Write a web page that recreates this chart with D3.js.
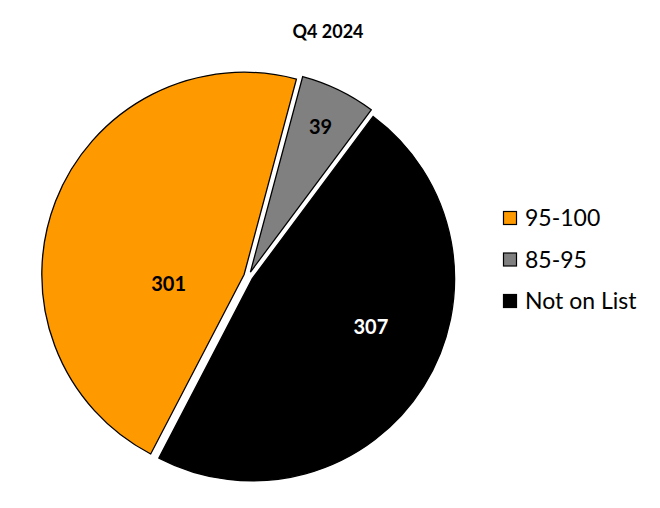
<!DOCTYPE html>
<html>
<head>
<meta charset="utf-8">
<script src="https://cdn.jsdelivr.net/npm/d3@7"></script>
<style>
  html, body { margin: 0; padding: 0; background: #ffffff; }
  svg { display: block; }
  text { font-family: Lato, "Open Sans", sans-serif; }
</style>
</head>
<body>
<svg id="chart" width="660" height="508"></svg>
<script>
// ---- data ----
const title = "Q4 2024";
const categories = ["95-100", "85-95", "Not on List"];
const values = [301, 39, 307];
const colors = ["#FF9900", "#808080", "#000000"];
const labelColors = ["#000000", "#000000", "#ffffff"];

// ---- layout ----
const W = 660, H = 508;
const cx = 248.4, cy = 276.2, R = 202.3;
const explode = 4.6;
const startDeg = 207.5;
// label placement tweaks (angle shift in degrees, distance from slice apex in px)
const labelShift = [-28, 0, -10];
const labelDist = [76, 161, 128];

const svg = d3.select("#chart");

svg.append("text")
  .attr("x", 328).attr("y", 38)
  .attr("text-anchor", "middle")
  .attr("font-size", 18).attr("font-weight", "bold")
  .attr("fill", "#000")
  .text(title);

const rad = d => d * Math.PI / 180;
const pie = d3.pie().sort(null).value(d => d)
  .startAngle(rad(startDeg)).endAngle(rad(startDeg) + 2 * Math.PI);
const arcs = pie(values);
const arc = d3.arc().innerRadius(0).outerRadius(R);

const g = svg.append("g").attr("transform", `translate(${cx},${cy})`);

arcs.forEach((a, i) => {
  const mid = (a.startAngle + a.endAngle) / 2;
  const ox = explode * Math.sin(mid), oy = -explode * Math.cos(mid);
  const sg = g.append("g").attr("transform", `translate(${ox},${oy})`);
  sg.append("path")
    .attr("d", arc(a))
    .attr("fill", colors[i])
    .attr("stroke", "#000")
    .attr("stroke-width", 1.3)
    .attr("stroke-linejoin", "miter");
  const la = mid + rad(labelShift[i]);
  sg.append("text")
    .attr("x", labelDist[i] * Math.sin(la))
    .attr("y", -labelDist[i] * Math.cos(la))
    .attr("dy", "0.36em")
    .attr("text-anchor", "middle")
    .attr("font-size", 20).attr("font-weight", "bold")
    .attr("fill", labelColors[i])
    .text(values[i]);
});

// legend
const legend = svg.append("g").attr("transform", "translate(503,218)");
categories.forEach((c, i) => {
  const row = legend.append("g").attr("transform", `translate(0,${i * 41.5})`);
  row.append("rect")
    .attr("x", 0.5).attr("y", -6.5)
    .attr("width", 13).attr("height", 13)
    .attr("fill", colors[i])
    .attr("stroke", "#000").attr("stroke-width", 1.2);
  row.append("text")
    .attr("x", 22).attr("y", 0)
    .attr("dy", "0.36em")
    .attr("font-size", 23)
    .attr("fill", "#000")
    .text(c);
});
</script>
</body>
</html>
